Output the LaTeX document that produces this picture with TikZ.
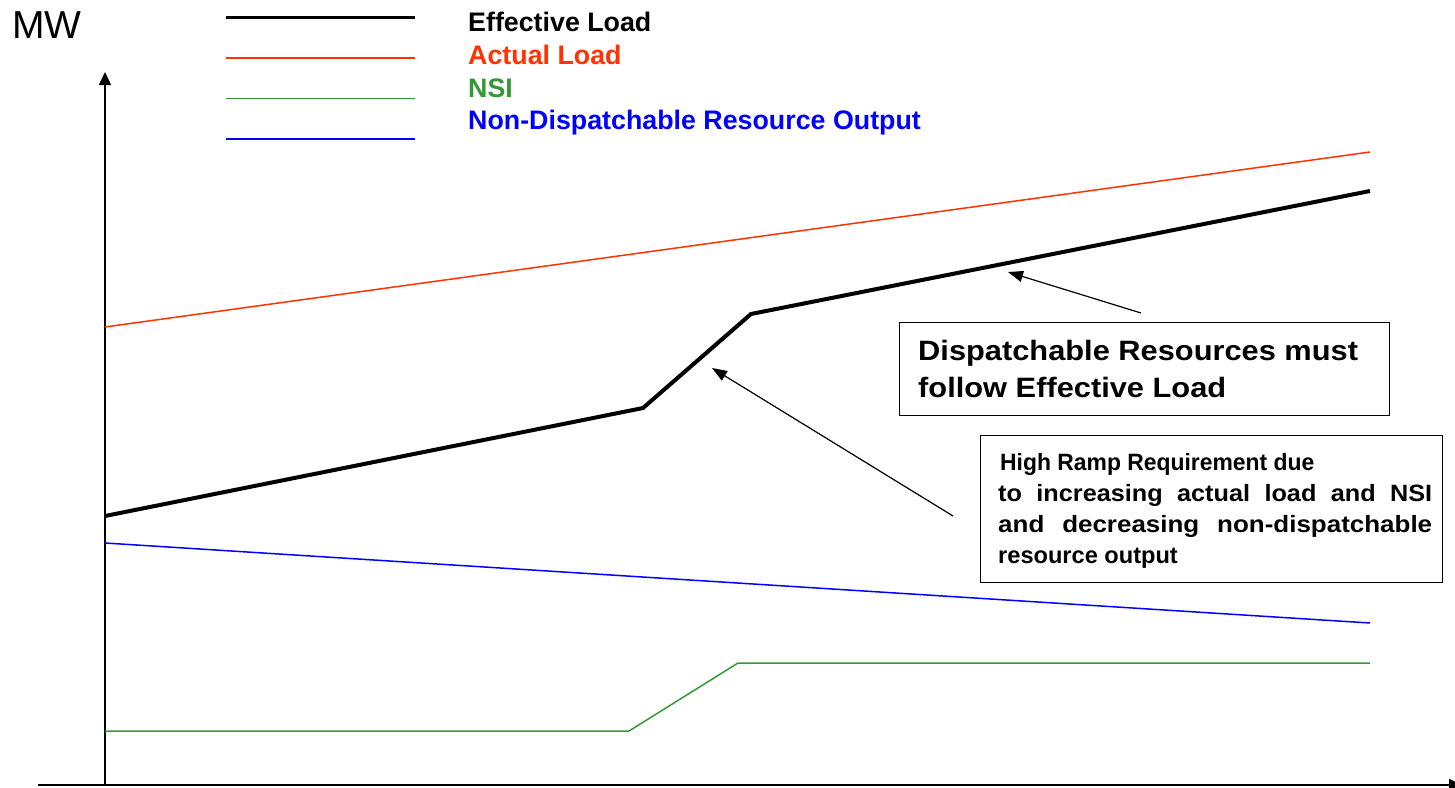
\documentclass[tikz,border=0pt]{standalone}
\usepackage{fontspec}
\setmainfont{Liberation Sans}
\usetikzlibrary{arrows.meta}
\definecolor{ldred}{RGB}{255,51,0}
\definecolor{ldgreen}{RGB}{51,153,51}
\definecolor{ldblue}{RGB}{0,0,255}
\begin{document}
\begin{tikzpicture}[x=1pt,y=-1pt,
  axisline/.style={line width=1.4pt, -{Triangle[length=13pt,width=12pt]}},
  ptr/.style={line width=1.2pt, -{Triangle[length=15pt,width=11pt]}},
  legtext/.style={anchor=base west, inner sep=0pt, font=\fontsize{26.8}{30}\selectfont\bfseries},
  boxtext/.style={anchor=base west, inner sep=0pt, font=\fontsize{28}{32}\selectfont\bfseries},
  smalltext/.style={anchor=base west, inner sep=0pt, font=\fontsize{23.6}{28}\selectfont\bfseries},
  callout/.style={draw, line width=1.4pt, anchor=north west, inner sep=0pt},
  effline/.style={line width=4pt, black},
  actline/.style={line width=1.5pt, ldred},
  nsiline/.style={line width=1.5pt, ldgreen},
  ndrline/.style={line width=1.5pt, ldblue}
]
\clip (0,0) rectangle (1455,787);
\fill[white] (0,0) rectangle (1455,787);

% axes
\coordinate (origin) at (105,785);
\coordinate (ytop) at (105,72);
\coordinate (xleft) at (38,785);
\coordinate (xright) at (1462,785);
\draw[axisline] (origin) -- (ytop);
\draw[axisline, line width=2pt] (xleft) -- (xright);
\node[anchor=base west, inner sep=0pt, font=\fontsize{39}{44}\selectfont] (mw) at (12,38) {MW};

% legend
\coordinate (l1a) at (226,17.5); \coordinate (l1b) at (415,17.5);
\coordinate (l2a) at (226,58);   \coordinate (l2b) at (415,58);
\coordinate (l3a) at (226,98.5); \coordinate (l3b) at (415,98.5);
\coordinate (l4a) at (226,139);  \coordinate (l4b) at (415,139);
\draw[line width=3.5pt] (l1a) -- (l1b);
\draw[actline] (l2a) -- (l2b);
\draw[nsiline] (l3a) -- (l3b);
\draw[ndrline] (l4a) -- (l4b);
\node[legtext] (leg1) at (468,31) {Effective Load};
\node[legtext, text=ldred] (leg2) at (468,64) {Actual Load};
\node[legtext, text=ldgreen] (leg3) at (468,97) {NSI};
\node[legtext, text=ldblue] (leg4) at (468,129) {Non-Dispatchable Resource Output};

% data lines
\coordinate (a0) at (105,327); \coordinate (a1) at (1370,152);
\draw[actline] (a0) -- (a1);
\coordinate (e0) at (105,516); \coordinate (e1) at (643,408);
\coordinate (e2) at (751,314); \coordinate (e3) at (1370,191);
\draw[effline] (e0) -- (e1) -- (e2) -- (e3);
\coordinate (b0) at (105,543); \coordinate (b1) at (1370,623);
\draw[ndrline] (b0) -- (b1);
\coordinate (g0) at (105,731); \coordinate (g1) at (629,731);
\coordinate (g2) at (738,663); \coordinate (g3) at (1370,663);
\draw[nsiline] (g0) -- (g1) -- (g2) -- (g3);

% callout boxes
\node[callout, minimum width=490pt, minimum height=93pt] (box1) at (899,322) {};
\node[boxtext] (t1a) at (918,360) {\scalebox{1.1}[1]{Dispatchable Resources must}};
\node[boxtext] (t1b) at (918,397) {\scalebox{1.1}[1]{follow Effective Load}};

\node[callout, minimum width=462pt, minimum height=147pt] (box2) at (980,435) {};
\node[smalltext] (t2a) at (1000,470) {\scalebox{0.97}[1]{High Ramp Requirement due}};
\node[smalltext] (t2b) at (998,501) {\scalebox{1.07}[1]{\makebox[405.6pt][s]{to increasing actual load and NSI}}};
\node[smalltext] (t2c) at (998,532) {\scalebox{1.1}[1]{\makebox[394.5pt][s]{and decreasing non-dispatchable}}};
\node[smalltext] (t2d) at (998,563) {resource output};

% pointers
\coordinate (p1tail) at (1141,313); \coordinate (p1tip) at (1008,272);
\coordinate (p2tail) at (953,516);  \coordinate (p2tip) at (712,368);
\draw[ptr] (p1tail) -- (p1tip);
\draw[ptr] (p2tail) -- (p2tip);
\end{tikzpicture}
\end{document}
